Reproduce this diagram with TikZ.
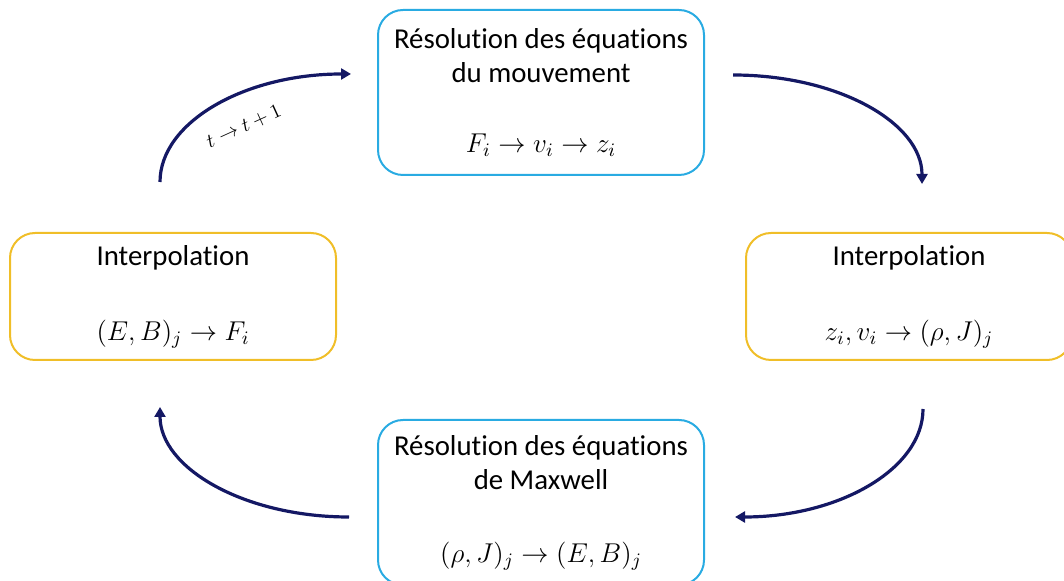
\RequirePackage{fix-cm}
\documentclass[tikz,border=0pt]{standalone}
\usepackage{fontspec}
\setmainfont{Carlito}[Ligatures=NoCommon]
\usetikzlibrary{arrows.meta}
\definecolor{boxblue}{RGB}{41,171,226}
\definecolor{boxgold}{RGB}{240,190,40}
\definecolor{navy}{RGB}{20,24,100}

\begin{document}
\begin{tikzpicture}[x=0.5pt, y=-0.5pt,
    stage/.style={draw, rectangle, rounded corners=12.5pt, line width=1pt, minimum width=163pt, inner sep=0pt, align=center, font=\fontsize{14.4}{17}\selectfont},
    solve/.style={stage, draw=boxblue, minimum height=82.5pt},
    interp/.style={stage, draw=boxgold, minimum height=63.5pt},
    arrow/.style={-{Triangle[length=5pt, width=5.5pt]}, line width=1.6pt, draw=navy}
]
\clip (0,0) rectangle (1064,581);

% Resolution du mouvement
\node[solve] (motion) at (541,92.5) {Résolution des équations\\du mouvement\\[18pt]{\fontsize{13.6}{17}\selectfont$F_i \to v_i \to z_i$}};

% Interpolations
\node[interp] (interpL) at (173,296.5) {Interpolation\\[20.5pt]{\fontsize{13.6}{17}\selectfont$(E,B)_j \to F_i$}};
\node[interp] (interpR) at (909,296.5) {Interpolation\\[20.5pt]{\fontsize{13.6}{17}\selectfont$z_i,v_i \to (\rho,J)_j$}};

% Resolution de Maxwell
\node[solve] (maxwell) at (541,502.5) {Résolution des équations\\de Maxwell\\[19.5pt]{\fontsize{13.6}{17}\selectfont$(\rho,J)_j \to (E,B)_j$}};

% Cycle
\draw[arrow] ([shift={(-13,-50)}]interpL.north) .. controls +(0,-60) and +(-106,0) .. ([shift={(-26,-18.5)}]motion.west)
    node[pos=0.57, sloped, below=8pt, font=\fontsize{10}{12}\selectfont] (tick) {$t \to t+1$};
\draw[arrow] ([shift={(28,-17.5)}]motion.east) .. controls +(105,0) and +(0,-61) .. ([shift={(13,-48)}]interpR.north);
\draw[arrow] ([shift={(14,48)}]interpR.south) .. controls +(0,60) and +(104,0) .. ([shift={(30,14.5)}]maxwell.east);
\draw[arrow] ([shift={(-28,14.5)}]maxwell.west) .. controls +(-105,0) and +(0,61) .. ([shift={(-13,46)}]interpL.south);

\end{tikzpicture}
\end{document}
